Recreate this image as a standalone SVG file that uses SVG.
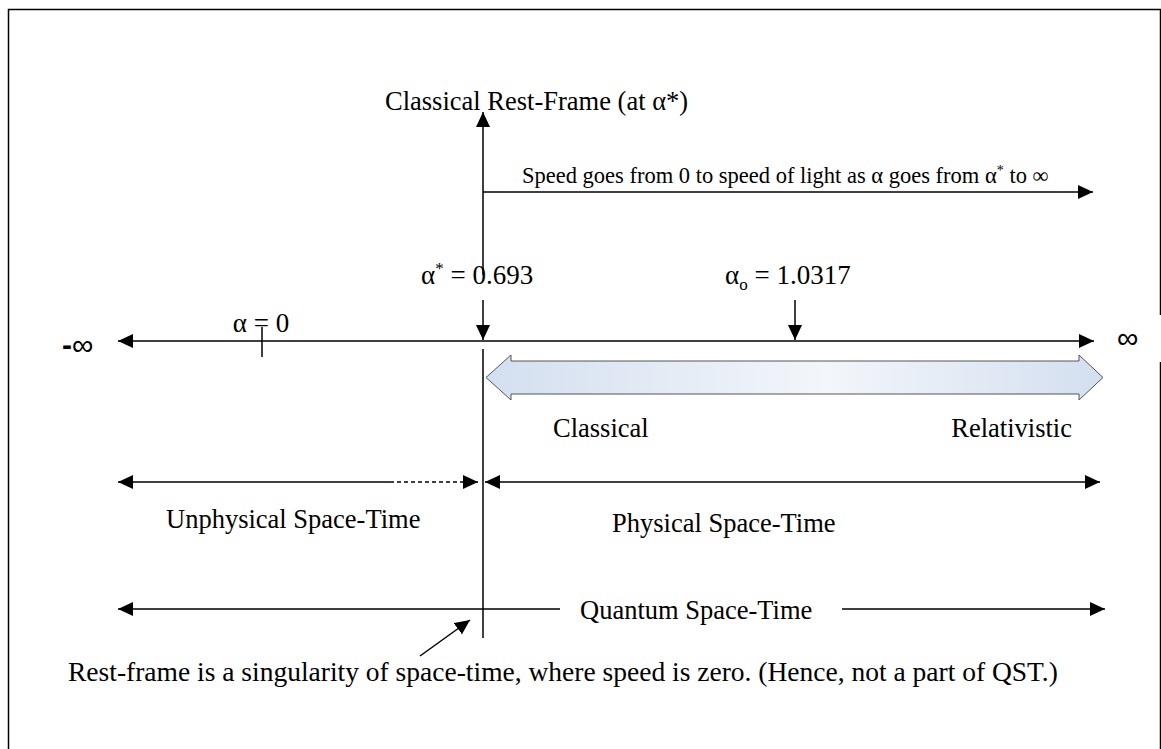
<svg xmlns="http://www.w3.org/2000/svg" width="1161" height="749" viewBox="0 0 1161 749">
<defs>
<marker id="ah" markerWidth="15" markerHeight="14" refX="15" refY="7" orient="auto-start-reverse" markerUnits="userSpaceOnUse">
<path d="M0,0 L15,7 L0,14 Z" fill="#000"/>
</marker>
<linearGradient id="bg" x1="0" y1="0" x2="1" y2="0">
<stop offset="0" stop-color="#d3dff0"/>
<stop offset="0.55" stop-color="#f3f6fa"/>
<stop offset="1" stop-color="#d3dff0"/>
</linearGradient>
<style>
.t{font-family:"Liberation Serif","Times New Roman",serif;fill:#000}
.l{stroke:#000;stroke-width:1.5;fill:none}
.a{stroke:#000;stroke-width:1.5;fill:none;marker-end:url(#ah)}
.aa{stroke:#000;stroke-width:1.5;fill:none;marker-end:url(#ah);marker-start:url(#ah)}
.inf{font-family:"Liberation Sans","DejaVu Sans",sans-serif;fill:#000}
</style>
</defs>
<rect width="1161" height="749" fill="#fff"/>
<g id="frame" class="l">
<path d="M8.5,749 V9.5 H1160.5 V315"/>
<path d="M1160.5,362 V749"/>
</g>
<g id="connectors">
<line class="a" x1="483" y1="275" x2="483" y2="112"/>
<line class="a" x1="483" y1="192" x2="1093" y2="192"/>
<line class="a" x1="483" y1="300" x2="483" y2="340"/>
<line class="a" x1="795" y1="300" x2="795" y2="340"/>
<line class="aa" x1="118" y1="341" x2="1094" y2="341"/>
<line class="l" x1="262" y1="327" x2="262" y2="357"/>
<line class="l" x1="483" y1="349" x2="483" y2="638"/>
<line class="l" x1="118" y1="482" x2="390" y2="482" marker-start="url(#ah)"/>
<line class="a" x1="390" y1="482" x2="478" y2="482" stroke-dasharray="4,3"/>
<line class="aa" x1="485" y1="482" x2="1100" y2="482"/>
<line class="l" x1="118" y1="609" x2="560" y2="609" marker-start="url(#ah)"/>
<line class="a" x1="842" y1="609" x2="1105" y2="609"/>
<line class="a" x1="420" y1="656" x2="470" y2="620"/>
</g>
<g id="block-arrow">
<path d="M486,377.5 L511,355 L511,361 L1079,361 L1079,355 L1103,377.5 L1079,400 L1079,394 L511,394 L511,400 Z" fill="url(#bg)" stroke="#555" stroke-width="1"/>
</g>
<g id="title"><text class="t" x="385" y="110" font-size="26.5">Classical Rest-Frame (at α*)</text></g>
<g id="speed"><text class="t" x="522" y="183" font-size="22.5">Speed goes from 0 to speed of light as α goes from α<tspan dy="-8" font-size="14">*</tspan><tspan dy="8"> to ∞</tspan></text></g>
<g id="alpha-star"><text class="t" x="421" y="284" font-size="27">α<tspan dy="-10" font-size="17">*</tspan><tspan dy="10"> = 0.693</tspan></text></g>
<g id="alpha-o"><text class="t" x="725" y="284" font-size="27">α<tspan dy="6" font-size="17">o</tspan><tspan dy="-6"> = 1.0317</tspan></text></g>
<g id="alpha-zero"><text class="t" x="261" y="332" font-size="27" text-anchor="middle">α = 0</text></g>
<g id="neg-inf"><text class="inf" x="62" y="355" font-size="30"><tspan font-weight="bold">-</tspan>∞</text></g>
<g id="pos-inf"><text class="inf" x="1117" y="348" font-size="30">∞</text></g>
<g id="classical"><text class="t" x="553" y="437" font-size="26.5">Classical</text></g>
<g id="relativistic"><text class="t" x="1072" y="437" font-size="26.5" text-anchor="end">Relativistic</text></g>
<g id="unphysical"><text class="t" x="166" y="528" font-size="26.5">Unphysical Space-Time</text></g>
<g id="physical"><text class="t" x="612" y="532" font-size="26.5">Physical Space-Time</text></g>
<g id="quantum"><text class="t" x="580" y="619" font-size="26.5">Quantum Space-Time</text></g>
<g id="note"><text class="t" x="68" y="681" font-size="27.5">Rest-frame is a singularity of space-time, where speed is zero. (Hence, not a part of QST.)</text></g>
</svg>
